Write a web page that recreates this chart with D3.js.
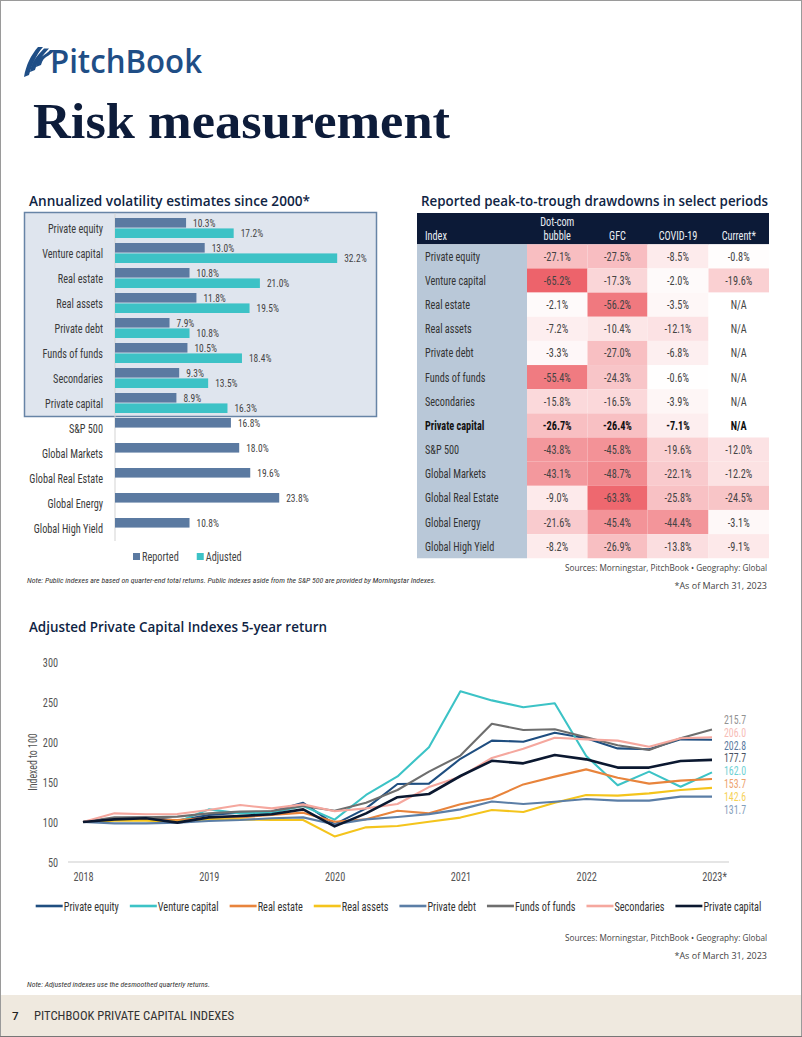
<!DOCTYPE html>
<html><head><meta charset="utf-8">
<script src="https://cdn.jsdelivr.net/npm/d3@7"></script>
<style>body{margin:0;background:#fff}svg{display:block}</style>
</head><body><svg id="c" width="802" height="1037"></svg>
<script>
// ---------------- DATA ----------------
const volCategories = ["Private equity","Venture capital","Real estate","Real assets","Private debt","Funds of funds","Secondaries","Private capital","S&P 500","Global Markets","Global Real Estate","Global Energy","Global High Yield"];
const volReported = [10.3,13.0,10.8,11.8,7.9,10.5,9.3,8.9,16.8,18.0,19.6,23.8,10.8];
const volAdjusted = [17.2,32.2,21.0,19.5,10.8,18.4,13.5,16.3,null,null,null,null,null];
const volSeries = ["Reported","Adjusted"];

const ddIndexes = ["Private equity","Venture capital","Real estate","Real assets","Private debt","Funds of funds","Secondaries","Private capital","S&P 500","Global Markets","Global Real Estate","Global Energy","Global High Yield"];
const ddPeriods = ["Dot-com bubble","GFC","COVID-19","Current*"];
const ddDotcom = [-27.1,-65.2,-2.1,-7.2,-3.3,-55.4,-15.8,-26.7,-43.8,-43.1,-9.0,-21.6,-8.2];
const ddGFC = [-27.5,-17.3,-56.2,-10.4,-27.0,-24.3,-16.5,-26.4,-45.8,-48.7,-63.3,-45.4,-26.9];
const ddCovid = [-8.5,-2.0,-3.5,-12.1,-6.8,-0.6,-3.9,-7.1,-19.6,-22.1,-25.8,-44.4,-13.8];
const ddCurrent = [-0.8,-19.6,null,null,null,null,null,null,-12.0,-12.2,-24.5,-3.1,-9.1];

const quarters = ["2018Q1","2018Q2","2018Q3","2018Q4","2019Q1","2019Q2","2019Q3","2019Q4","2020Q1","2020Q2","2020Q3","2020Q4","2021Q1","2021Q2","2021Q3","2021Q4","2022Q1","2022Q2","2022Q3","2022Q4","2023Q1"];
const xTickQuarters = ["2018Q1","2019Q1","2020Q1","2021Q1","2022Q1","2023Q1"];
const xTickLabels = ["2018","2019","2020","2021","2022","2023*"];
const yTicks = [50,100,150,200,250,300];
const lineNames = ["Private equity","Venture capital","Real estate","Real assets","Private debt","Funds of funds","Secondaries","Private capital"];
const privateEquity  = [100,104.6,105.8,101.7,108.8,111.7,113,124,97,117,147.5,148,179,201.7,200.4,211.5,204.6,192,191,203.3,202.8];
const ventureCapital = [100,103,103,100,115.8,110.8,111.7,120,103,133.8,157,193.5,263.5,252,243.5,248.5,182.5,146,163,144,162.0];
const realEstate     = [100,102.5,103.3,102.5,105.4,105.8,108.8,111.7,100.4,103.3,114,110.8,122.3,129.6,147,156.7,165.8,155.4,148,151.7,153.7];
const realAssets     = [100,101.7,101.7,100.4,103.3,103.3,102.5,102.5,82,93.3,95,100.4,105.5,115,112.5,124,133.8,133,135.8,140,142.6];
const privateDebt    = [100,98.3,98.3,99.2,101.3,102.5,104.6,105.8,97,103.3,106.2,109.8,115.8,125.6,122.5,125.4,128.7,126.7,126.7,131.7,131.7];
const fundsOfFunds   = [100,105.8,105.8,106.7,110.8,113,113.8,120,114,124,140,163,183,222.7,215,216,206,196,190,204.6,215.7];
const secondaries    = [100,110.8,109.6,110,115,121.3,117,122,113.5,117,122.5,143.6,156.7,180,191.5,205.4,203.3,201.7,194,204.6,206.0];
const privateCapital = [100,103.3,104.6,99.2,105.8,107.5,109.6,115.8,94.5,110.8,131,135,157.5,176.5,173.3,183.7,178.3,168,168,176.3,177.7];
const lineValues = [privateEquity,ventureCapital,realEstate,realAssets,privateDebt,fundsOfFunds,secondaries,privateCapital];
const lineColors = ["#1f4e80","#3cc3c6","#e8843c","#f4c41c","#5b7ea6","#6e6e6e","#f5a79e","#0b1830"];

// ---------------- STYLE ----------------
const NARROW = "'Liberation Sans Narrow','Arial Narrow','Roboto Condensed',sans-serif";
const HEAD = "'Open Sans',sans-serif";
const SQ = 0.82; // horizontal squeeze to mimic a condensed face
const navy = "#0f2444";
const svg = d3.select("#c");
function squeeze(sel,f){
  sel.each(function(){
    const l = this.getComputedTextLength();
    d3.select(this).attr("textLength",l*(f||SQ)).attr("lengthAdjust","spacingAndGlyphs");
  });
  return sel;
}

// page frame
svg.append("rect").attr("x",0.5).attr("y",0.5).attr("width",801).attr("height",1036)
  .attr("fill","#fff").attr("stroke","#9a9a9a");

// ---------------- HEADER ----------------
const logo = svg.append("g").attr("fill","#1f4e86");
[0,6,12].forEach((dx,i)=>{
  const top = 47 + i*1.5, bot = 77 - i*5;
  logo.append("path").attr("d",
    `M${24+dx},${bot} C${26+dx},${bot-12} ${31+dx},${top+8} ${38+dx},${top} L${43+dx},${top} C${36+dx},${top+8} ${32+dx},${bot-12} ${29+dx},${bot-2} Z`);
});
svg.append("text").attr("x",50).attr("y",73).text("PitchBook")
  .attr("font-family",HEAD).attr("font-weight",600).attr("font-size",33).attr("fill","#1f4e86")
  .attr("textLength",152).attr("lengthAdjust","spacingAndGlyphs");
svg.append("text").attr("x",33).attr("y",138).text("Risk measurement")
  .attr("font-family","'Liberation Serif',serif").attr("font-weight","bold").attr("font-size",50)
  .attr("fill","#0d1c3a").attr("textLength",417).attr("lengthAdjust","spacingAndGlyphs");

// section titles
function heading(x,y,txt,len){
  svg.append("text").attr("x",x).attr("y",y).text(txt).attr("font-family",HEAD)
    .attr("font-weight",600).attr("font-size",13.5).attr("fill",navy)
    .attr("textLength",len).attr("lengthAdjust","spacingAndGlyphs");
}
heading(29,206,"Annualized volatility estimates since 2000*",281);
heading(421,206,"Reported peak-to-trough drawdowns in select periods",347);
heading(29,632,"Adjusted Private Capital Indexes 5-year return",298);

// ---------------- BAR CHART ----------------
svg.append("rect").attr("x",24.5).attr("y",212.5).attr("width",352).attr("height",204)
  .attr("fill","#dfe5ee").attr("stroke","#6784a6").attr("stroke-width",1.5);

const yBand = d3.scaleBand().domain(volCategories).range([215.5,540.5]).paddingInner(0.2).paddingOuter(0.1);
const ySub = d3.scaleBand().domain(volSeries).range([0,yBand.bandwidth()]).paddingInner(0.08);
const xBar = d3.scaleLinear().domain([0,35]).range([115,356.5]);
const barColors = {Reported:"#5b7aa1",Adjusted:"#3dc2c6"};

svg.append("line").attr("x1",115).attr("x2",115).attr("y1",213).attr("y2",541)
  .attr("stroke","#d3d3d3").attr("stroke-width",1);

const barRows = volCategories.map((c,i)=>({cat:c,Reported:volReported[i],Adjusted:volAdjusted[i]}));
const rowG = svg.selectAll("g.row").data(barRows).join("g").attr("class","row")
  .attr("transform",d=>`translate(0,${yBand(d.cat)})`);
squeeze(rowG.append("text").attr("x",103).attr("y",yBand.bandwidth()/2+4.5).attr("text-anchor","end")
  .attr("font-family",NARROW).attr("font-size",12.5).attr("fill","#3a3a3a").text(d=>d.cat));
volSeries.forEach(s=>{
  const g = rowG.filter(d=>d[s]!=null);
  g.append("rect").attr("x",xBar(0)).attr("y",ySub(s)).attr("height",ySub.bandwidth())
    .attr("width",d=>xBar(d[s])-xBar(0)).attr("fill",barColors[s]);
  squeeze(g.append("text").attr("x",d=>xBar(d[s])+7).attr("y",ySub(s)+ySub.bandwidth()/2+4)
    .attr("font-family",NARROW).attr("font-size",11.5).attr("fill","#444")
    .text(d=>d[s].toFixed(1)+"%"));
});
// bar legend
let lx = 133;
volSeries.forEach(s=>{
  svg.append("rect").attr("x",lx).attr("y",553).attr("width",7).attr("height",7).attr("fill",barColors[s]);
  const t = svg.append("text").attr("x",lx+9).attr("y",561).text(s)
    .attr("font-family",NARROW).attr("font-size",12.5).attr("fill","#444");
  const w = t.node().getComputedTextLength()*SQ;
  t.attr("textLength",w).attr("lengthAdjust","spacingAndGlyphs");
  lx += 9 + w + 18;
});
svg.append("text").attr("x",27).attr("y",583)
  .text("Note: Public indexes are based on quarter-end total returns. Public indexes aside from the S&P 500 are provided by Morningstar Indexes.")
  .attr("font-family",NARROW).attr("font-style","italic").attr("font-size",7.5).attr("fill","#333")
  .attr("textLength",409).attr("lengthAdjust","spacingAndGlyphs");

// ---------------- TABLE ----------------
const colEdges = [417,527,587.5,647.5,708.5,769];
const headTop = 213, headBot = 244.3, rowH = 24.15;
const ddCols = [ddDotcom,ddGFC,ddCovid,ddCurrent];
const rowY = d3.scaleBand().domain(ddIndexes).range([headBot, headBot + rowH*ddIndexes.length]);
const heat = d3.scaleLinear().domain([0,-70]).range(["#ffffff","#ec5860"]).clamp(true);

svg.append("rect").attr("x",colEdges[0]).attr("y",headTop).attr("width",colEdges[5]-colEdges[0])
  .attr("height",headBot-headTop).attr("fill","#0c1a37");
svg.append("rect").attr("x",colEdges[0]).attr("y",headBot).attr("width",colEdges[1]-colEdges[0])
  .attr("height",rowH*ddIndexes.length).attr("fill","#b9c8d8");
const hdr = svg.append("g").attr("font-family",NARROW).attr("font-size",12.5).attr("fill","#e9edf3");
squeeze(hdr.append("text").attr("x",425).attr("y",240).text("Index"));
ddPeriods.forEach((p,j)=>{
  const cx = (colEdges[j+1]+colEdges[j+2])/2;
  const words = p==="Dot-com bubble" ? ["Dot-com","bubble"] : [p];
  words.forEach((w,wi)=>{
    squeeze(hdr.append("text").attr("x",cx).attr("y",240-(words.length-1-wi)*14)
      .attr("text-anchor","middle").text(w));
  });
});
ddIndexes.forEach((name,i)=>{
  const y0 = rowY(name), bold = name==="Private capital";
  squeeze(svg.append("text").attr("x",425).attr("y",y0+rowH/2+4.5).text(name)
    .attr("font-family",NARROW).attr("font-size",12.5).attr("fill",bold?"#111":"#333")
    .attr("font-weight",bold?"bold":"normal"));
  ddCols.forEach((col,j)=>{
    const v = col[i];
    svg.append("rect").attr("x",colEdges[j+1]).attr("y",y0).attr("width",colEdges[j+2]-colEdges[j+1])
      .attr("height",rowH).attr("fill",v==null?"#fff":heat(v));
    squeeze(svg.append("text").attr("x",(colEdges[j+1]+colEdges[j+2])/2).attr("y",y0+rowH/2+4.5)
      .attr("text-anchor","middle").text(v==null?"N/A":v.toFixed(1)+"%")
      .attr("font-family",NARROW).attr("font-size",12.5).attr("fill",bold?"#111":"#444")
      .attr("font-weight",bold?"bold":"normal"));
  });
});
function sources(y){
  svg.append("text").attr("x",767).attr("y",y).attr("text-anchor","end")
    .text("Sources: Morningstar, PitchBook \u2022 Geography: Global")
    .attr("font-family",HEAD).attr("font-size",9).attr("fill","#444")
    .attr("textLength",202).attr("lengthAdjust","spacingAndGlyphs");
  svg.append("text").attr("x",767).attr("y",y+17.5).attr("text-anchor","end")
    .text("*As of March 31, 2023")
    .attr("font-family",HEAD).attr("font-size",9).attr("fill","#444");
}
sources(571);

// ---------------- LINE CHART ----------------
const xL = d3.scalePoint().domain(quarters).range([83,712]);
const yL = d3.scaleLinear().domain([50,300]).range([862,662]);
svg.append("line").attr("x1",68).attr("x2",729).attr("y1",yL(50)).attr("y2",yL(50))
  .attr("stroke","#dcdcdc").attr("stroke-width",1.5);
const yAx = svg.append("g").attr("transform","translate(58,0)")
  .call(d3.axisLeft(yL).tickValues(yTicks).tickSize(0).tickPadding(0));
yAx.select(".domain").remove();
squeeze(yAx.selectAll("text").attr("font-family",NARROW).attr("font-size",12.5).attr("fill","#555"));
const xAx = svg.append("g").attr("transform","translate(0,868)")
  .call(d3.axisBottom(xL).tickValues(xTickQuarters).tickSize(0).tickPadding(4)
    .tickFormat(q=>xTickLabels[xTickQuarters.indexOf(q)]));
xAx.select(".domain").remove();
squeeze(xAx.selectAll("text").attr("font-family",NARROW).attr("font-size",12.5).attr("fill","#555"));
xAx.selectAll(".tick").filter(q=>q==="2023Q1").select("text").attr("dx",2);
squeeze(svg.append("text").attr("transform","translate(37,762) rotate(-90)").attr("text-anchor","middle")
  .text("Indexed to 100").attr("font-family",NARROW).attr("font-size",12).attr("fill","#555"));

const line = d3.line().x((d,i)=>xL(quarters[i])).y(d=>yL(d));
lineNames.forEach((n,k)=>{
  svg.append("path").datum(lineValues[k]).attr("d",line).attr("fill","none")
    .attr("stroke",lineColors[k]).attr("stroke-width",n==="Private capital"?2.6:2.1)
    .attr("stroke-linejoin","round");
});
// end labels with collision avoidance
const ends = lineNames.map((n,k)=>({k,v:lineValues[k][lineValues[k].length-1],y:yL(lineValues[k][lineValues[k].length-1])}))
  .sort((a,b)=>a.y-b.y);
const gap = 12.8;
let clusters = ends.map(e=>({items:[e],c:e.y}));
let merged = true;
while(merged){
  merged=false;
  for(let i=0;i<clusters.length-1;i++){
    const a=clusters[i], b=clusters[i+1];
    const aBot = a.c + (a.items.length-1)*gap/2, bTop = b.c - (b.items.length-1)*gap/2;
    if(bTop - aBot < gap){
      const items = a.items.concat(b.items);
      const c = d3.mean(items,d=>d.y);
      clusters.splice(i,2,{items,c}); merged=true; break;
    }
  }
}
clusters.forEach(cl=>cl.items.forEach((e,i)=>{e.ly = cl.c + (i-(cl.items.length-1)/2)*gap + 2;}));
squeeze(svg.selectAll("text.endlab").data(ends).join("text").attr("class","endlab")
  .attr("x",724).attr("y",d=>d.ly+4).text(d=>d.v.toFixed(1))
  .attr("font-family",NARROW).attr("font-size",12).attr("fill",d=>lineColors[d.k]).attr("opacity",0.75));

// line legend
const leg = svg.append("g");
let px = 0;
const legGap = 11;
lineNames.forEach((n,k)=>{
  const g = leg.append("g").attr("transform",`translate(${px},0)`);
  g.append("line").attr("x1",0).attr("x2",27).attr("y1",0).attr("y2",0)
    .attr("stroke",lineColors[k]).attr("stroke-width",2.6);
  const t = g.append("text").attr("x",28).attr("y",4.5).text(n)
    .attr("font-family",NARROW).attr("font-size",12.5).attr("fill","#333");
  const w = t.node().getComputedTextLength()*SQ;
  t.attr("textLength",w).attr("lengthAdjust","spacingAndGlyphs");
  px += 28 + w + legGap;
});
px -= legGap;
leg.attr("transform",`translate(${398.5-px/2},906)`);

sources(941);
svg.append("text").attr("x",27).attr("y",987).text("Note: Adjusted indexes use the desmoothed quarterly returns.")
  .attr("font-family",NARROW).attr("font-style","italic").attr("font-size",7.5).attr("fill","#333")
  .attr("textLength",183).attr("lengthAdjust","spacingAndGlyphs");

// ---------------- FOOTER ----------------
svg.append("rect").attr("x",1).attr("y",995).attr("width",800).attr("height",41).attr("fill","#efe9df");
svg.append("line").attr("x1",0).attr("x2",802).attr("y1",1036.5).attr("y2",1036.5).attr("stroke","#777");
svg.append("text").attr("x",12).attr("y",1020).text("7").attr("font-family",HEAD)
  .attr("font-weight",600).attr("font-size",11.5).attr("fill","#222");
svg.append("text").attr("x",34).attr("y",1020).text("PITCHBOOK PRIVATE CAPITAL INDEXES")
  .attr("font-family",NARROW).attr("font-size",12).attr("fill","#333")
  .attr("textLength",200).attr("lengthAdjust","spacingAndGlyphs");
</script></body></html>
